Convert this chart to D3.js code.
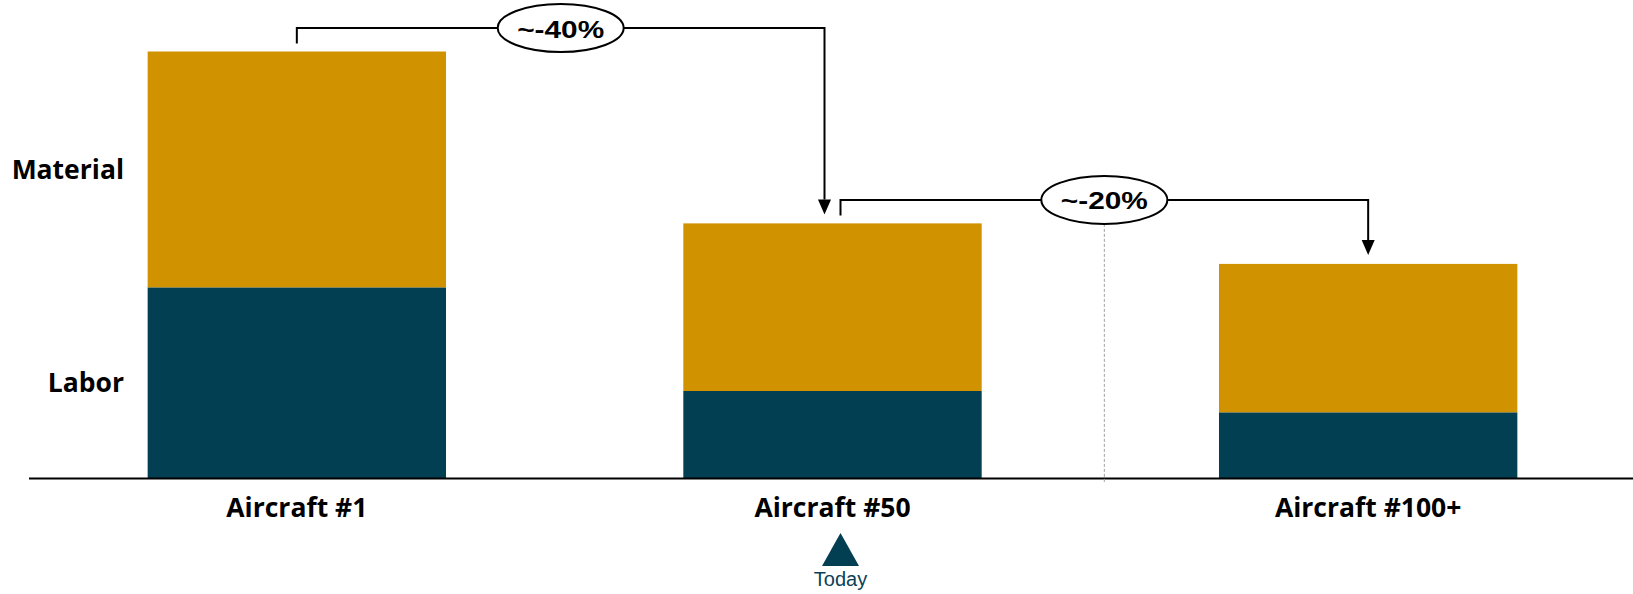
<!DOCTYPE html>
<html>
<head>
<meta charset="utf-8">
<script src="https://cdn.jsdelivr.net/npm/d3@7"></script>
<style>
  html, body { margin: 0; padding: 0; background: #ffffff; }
  svg { display: block; }
</style>
</head>
<body>
<svg id="chart" width="1633" height="594"></svg>
<script>
// Unit cost build-up per aircraft (index: Aircraft #1 total = 100)
const categories = ["Aircraft #1", "Aircraft #50", "Aircraft #100+"];
const labor      = [44.7, 20.4, 15.4];
const material   = [55.3, 39.3, 34.8];
const seriesNames = ["Labor", "Material"];
const reductions = [
  { from: 0, to: 1, label: "~-40%" },
  { from: 1, to: 2, label: "~-20%" }
];
const todayIndex = 1;
const todayLabel = "Today";

const colors = { Labor: "#023f52", Material: "#d19200" };

const baseY = 478;

const svg = d3.select("#chart");

const x = d3.scaleBand()
  .domain(categories)
  .range([29, 1636])
  .paddingInner(0.443)
  .paddingOuter(0.2215);

const y = d3.scaleLinear()
  .domain([0, 100])
  .range([baseY, 51.5]);

const rows = categories.map((c, i) => ({ category: c, Labor: labor[i], Material: material[i] }));
const stacked = d3.stack().keys(seriesNames)(rows);

// stacked bars
svg.append("g")
  .selectAll("g")
  .data(stacked)
  .join("g")
  .attr("fill", d => colors[d.key])
  .selectAll("rect")
  .data(d => d)
  .join("rect")
  .attr("x", d => x(d.data.category))
  .attr("width", x.bandwidth())
  .attr("y", d => y(d[1]))
  .attr("height", d => y(d[0]) - y(d[1]));

// baseline axis with category labels
const xAxis = svg.append("g")
  .attr("transform", `translate(0,${baseY})`)
  .call(d3.axisBottom(x).tickSize(0).tickPadding(39));
xAxis.select(".domain").attr("stroke", "#000").attr("stroke-width", 2).attr("d", "M29,0.5H1633");
xAxis.selectAll(".tick text")
  .attr("fill", "#000")
  .attr("font-family", "'Open Sans', sans-serif")
  .attr("font-weight", 700)
  .attr("font-size", 26.5)
  .attr("dy", "0");

// series labels, centred on the first bar's segments
svg.append("g")
  .selectAll("text")
  .data(stacked)
  .join("text")
  .attr("x", 124)
  .attr("y", d => (y(d[0][0]) + y(d[0][1])) / 2)
  .attr("dy", "0.35em")
  .attr("text-anchor", "end")
  .attr("font-family", "'Open Sans', sans-serif")
  .attr("font-weight", 700)
  .attr("font-size", 26.5)
  .attr("fill", "#000")
  .text(d => d.key);

const totals = categories.map((c, i) => labor[i] + material[i]);
const cx = i => x(categories[i]) + x.bandwidth() / 2;

// reduction brackets with percentage callouts
const ann = svg.append("g");
reductions.forEach((r, k) => {
  const fromTop = y(totals[r.from]);
  const toTop = y(totals[r.to]);
  const x0 = cx(r.from) + (k === 0 ? 0 : 8);
  const x1 = cx(r.to) - (k === 0 ? 8 : 0);
  const ly = fromTop - 23.5;
  const mid = (x0 + x1) / 2;

  if (k === 1) {
    ann.append("line")
      .attr("x1", mid).attr("x2", mid)
      .attr("y1", ly + 24).attr("y2", baseY + 4)
      .attr("stroke", "#a0a0a0")
      .attr("stroke-width", 1)
      .attr("stroke-dasharray", "3,2");
  }

  ann.append("path")
    .attr("d", `M${x0},${fromTop - 8}V${ly}H${x1}V${toTop - 9 - 15}`)
    .attr("fill", "none")
    .attr("stroke", "#000")
    .attr("stroke-width", 2);
  ann.append("path")
    .attr("d", `M${x1 - 6.5},${toTop - 24}L${x1 + 6.5},${toTop - 24}L${x1},${toTop - 9}Z`)
    .attr("fill", "#000");

  ann.append("ellipse")
    .attr("cx", mid).attr("cy", ly)
    .attr("rx", 63).attr("ry", 24)
    .attr("fill", "#fff")
    .attr("stroke", "#000")
    .attr("stroke-width", 2);
  ann.append("text")
    .attr("x", mid).attr("y", ly + 9.5)
    .attr("text-anchor", "middle")
    .attr("font-family", "'Liberation Sans', Arial, sans-serif")
    .attr("font-weight", 700)
    .attr("font-size", 24)
    .attr("textLength", 87)
    .attr("lengthAdjust", "spacingAndGlyphs")
    .attr("fill", "#000")
    .text(r.label);
});

// "Today" marker under Aircraft #50
const tx = cx(todayIndex) + 8;
svg.append("path")
  .attr("d", `M${tx},533L${tx + 18.5},566L${tx - 18.5},566Z`)
  .attr("fill", colors.Labor);
svg.append("text")
  .attr("x", tx).attr("y", 586)
  .attr("text-anchor", "middle")
  .attr("font-family", "'Liberation Sans', Arial, sans-serif")
  .attr("font-size", 20)
  .attr("fill", "#0d4256")
  .text(todayLabel);
</script>
</body>
</html>
